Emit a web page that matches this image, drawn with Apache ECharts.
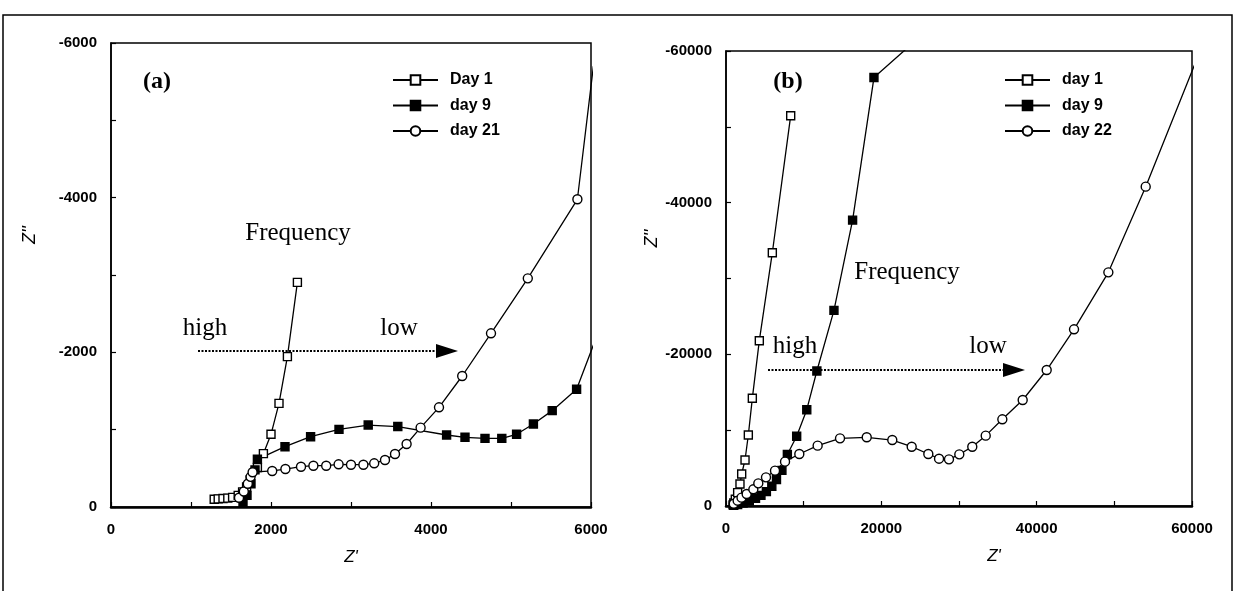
<!DOCTYPE html>
<html>
<head>
<meta charset="utf-8">
<script src="https://cdn.jsdelivr.net/npm/echarts@6/dist/echarts.min.js"></script>
<style>
html,body{margin:0;padding:0;background:#fff;}
#c{width:1239px;height:591px;}
</style>
</head>
<body>
<div id="c"></div>
<script>
// ---------- Panel (a) data : Z' (x) and Z'' (y, negative) ----------
var aDay1X  = [1290,1340,1400,1460,1520,1590,1645,1695,1740,1830,1905,2000,2100,2205,2330];
var aDay1Y  = [-100,-105,-110,-115,-125,-150,-195,-260,-350,-510,-690,-940,-1340,-1945,-2905];
var aDay9X  = [1650,1700,1750,1800,1830,2175,2495,2850,3215,3585,4195,4425,4675,4885,5070,5280,5515,5820,6150];
var aDay9Y  = [-60,-150,-300,-480,-617,-780,-909,-1004,-1060,-1040,-931,-901,-888,-888,-940,-1073,-1246,-1522,-2420];
var aDay21X = [1600,1660,1710,1745,1770,2015,2180,2375,2530,2690,2845,3000,3155,3290,3425,3550,3695,3870,4100,4390,4750,5210,5830,6030];
var aDay21Y = [-120,-200,-300,-390,-450,-466,-491,-521,-534,-534,-552,-547,-547,-565,-608,-685,-815,-1026,-1289,-1694,-2246,-2957,-3979,-5700];

// ---------- Panel (b) data ----------
var bDay1X  = [900,1000,1200,1500,1800,2020,2450,2875,3390,4290,5965,8330];
var bDay1Y  = [-150,-400,-900,-1760,-2900,-4220,-6070,-9360,-14200,-21800,-33400,-51470];
var bDay9X  = [1000,1500,2200,3000,3800,4500,5200,5900,6500,7200,7900,9100,10400,11700,13900,16300,19050,24000];
var bDay9Y  = [-100,-200,-400,-700,-1000,-1400,-1900,-2600,-3500,-4700,-6800,-9200,-12700,-17800,-25800,-37700,-56500,-61000];
var bDay22X = [1000,1500,2000,2660,3520,4160,5150,6310,7600,9440,11800,14680,18120,21410,23910,26050,27430,28710,30040,31710,33440,35580,38200,41290,44810,49230,54040,61000];
var bDay22Y = [-300,-700,-1100,-1580,-2200,-2990,-3780,-4660,-5850,-6860,-7960,-8920,-9060,-8700,-7820,-6860,-6240,-6150,-6810,-7820,-9280,-11430,-13980,-17930,-23300,-30810,-42110,-59900];

// ---------- Tick settings / labels ----------
var aXTicks = {min:0, max:6000, interval:1000, labelEvery:2000};
var aYTicks = {min:-6000, max:0, interval:1000, labelEvery:2000};
var bXTicks = {min:0, max:60000, interval:10000, labelEvery:20000};
var bYTicks = {min:-60000, max:0, interval:10000, labelEvery:20000};
var legendA = ['Day 1','day 9','day 21'];
var legendB = ['day 1 ','day 9 ','day 22'];

function zip(xs, ys){ return xs.map(function(x,i){ return [x, ys[i]]; }); }

var tickFont = {color:'#000', fontSize:15, fontWeight:'bold', fontFamily:'Liberation Sans, Arial, sans-serif'};

function xAxisOf(t, gi, shift){
  return {
    type:'value', gridIndex:gi, min:t.min, max:t.max, interval:t.interval,
    name:"Z'", nameLocation:'middle', nameGap:42,
    nameTextStyle:{color:'#000', fontSize:17, fontStyle:'italic', fontFamily:'Liberation Sans, Arial, sans-serif', padding:[0,0,0,shift]},
    axisLine:{show:true, onZero:false, lineStyle:{color:'#000', width:2.5}},
    axisTick:{show:true, inside:true, length:5, lineStyle:{color:'#000', width:1.2}},
    axisLabel:Object.assign({margin:15, formatter:function(v){ return (v % t.labelEvery === 0) ? String(v) : ''; }}, tickFont),
    splitLine:{show:false}
  };
}
function yAxisOf(t, gi, gap){
  return {
    type:'value', gridIndex:gi, min:t.min, max:t.max, interval:t.interval, inverse:true,
    name:"Z''", nameLocation:'middle', nameGap:gap, nameRotate:90,
    nameTextStyle:{color:'#000', fontSize:18, fontStyle:'italic', fontFamily:'Liberation Sans, Arial, sans-serif', padding:[0,0,0,80]},
    axisLine:{show:true, onZero:false, lineStyle:{color:'#000', width:1.5}},
    axisTick:{show:true, inside:true, length:5, lineStyle:{color:'#000', width:1.2}},
    axisLabel:Object.assign({margin:14, formatter:function(v){ return (v % t.labelEvery === 0) ? String(v) : ''; }}, tickFont),
    splitLine:{show:false}
  };
}
function ser(name, xs, ys, gi, symbol, filled, size){
  return {
    type:'line', name:name, xAxisIndex:gi, yAxisIndex:gi, data:zip(xs, ys),
    symbol:symbol, symbolSize:size, showSymbol:true, clip:true, animation:false,
    lineStyle:{color:'#000', width:1.3},
    itemStyle:{color: filled ? '#000' : '#fff', borderColor:'#000', borderWidth:1.4},
    z: 3
  };
}

var serif = 'Liberation Serif, Times New Roman, serif';
function txt(x, y, s, size, bold){
  return {type:'text', x:x, y:y, style:{text:s, fill:'#000', font:(bold?'bold ':'')+size+'px '+serif, textAlign:'center', textVerticalAlign:'middle'}, z:10};
}
function arrow(x1, x2, y){
  return [
    {type:'line', shape:{x1:x1, y1:y, x2:x2-20, y2:y}, style:{stroke:'#000', lineWidth:2, lineDash:[2,1.5]}, z:10},
    {type:'polygon', shape:{points:[[x2-22,y-7],[x2,y],[x2-22,y+7]]}, style:{fill:'#000'}, z:10}
  ];
}

var chart = echarts.init(document.getElementById('c'), null, {renderer:'canvas'});
var legendCommon = {
  orient:'vertical', itemWidth:45, itemHeight:12, itemGap:9.5,
  textStyle:{color:'#000', fontSize:16, fontWeight:'bold', fontFamily:'Liberation Sans, Arial, sans-serif', padding:[0,0,0,7]},
  inactiveColor:'#000', selectedMode:false
};
chart.setOption({
  backgroundColor:'#fff',
  animation:false,
  grid:[
    {left:111, top:43, width:480, height:464, show:true, borderColor:'#000', borderWidth:1.5, backgroundColor:'transparent'},
    {left:726, top:51, width:466, height:455, show:true, borderColor:'#000', borderWidth:1.5, backgroundColor:'transparent'}
  ],
  xAxis:[xAxisOf(aXTicks,0,0), xAxisOf(bXTicks,1,70)],
  yAxis:[yAxisOf(aYTicks,0,72), yAxisOf(bYTicks,1,62)],
  legend:[
    Object.assign({left:387, top:67, data:legendA}, legendCommon),
    Object.assign({left:999, top:67, data:legendB}, legendCommon)
  ],
  series:[
    ser(legendA[0], aDay1X, aDay1Y, 0, 'rect', false, 8),
    ser(legendA[1], aDay9X, aDay9Y, 0, 'rect', true, 8),
    ser(legendA[2], aDay21X, aDay21Y, 0, 'circle', false, 9),
    ser(legendB[0], bDay1X, bDay1Y, 1, 'rect', false, 8),
    ser(legendB[1], bDay9X, bDay9Y, 1, 'rect', true, 8),
    ser(legendB[2], bDay22X, bDay22Y, 1, 'circle', false, 9)
  ],
  graphic:[
    {type:'rect', shape:{x:3, y:15, width:1229, height:600}, style:{fill:'none', stroke:'#000', lineWidth:1.5}, z:1},
    txt(157, 82, '(a)', 24, true),
    txt(298, 233, 'Frequency', 25, false),
    txt(205, 328, 'high', 25, false),
    txt(399, 328, 'low', 25, false),
    txt(788, 82, '(b)', 24, true),
    txt(907, 272, 'Frequency', 25, false),
    txt(795, 346, 'high', 25, false),
    txt(988, 346, 'low', 25, false)
  ].concat(arrow(198, 458, 351)).concat(arrow(768, 1025, 370))
});
</script>
</body>
</html>
